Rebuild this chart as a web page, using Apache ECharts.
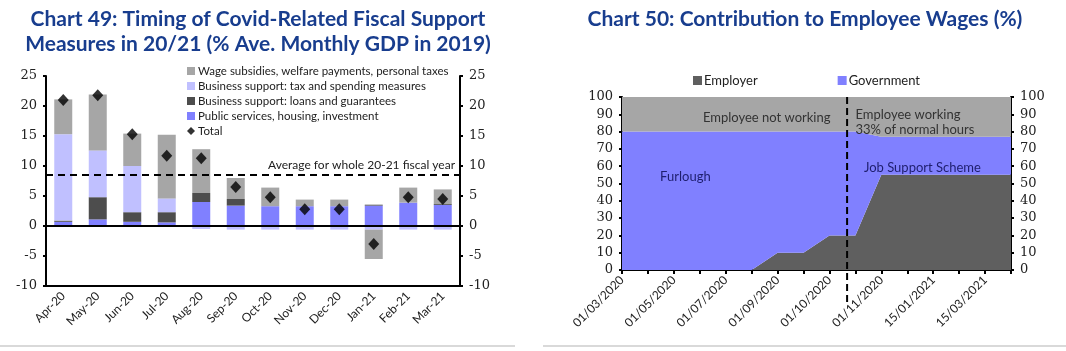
<!DOCTYPE html>
<html>
<head>
<meta charset="utf-8">
<script src="https://cdn.jsdelivr.net/npm/echarts@6/dist/echarts.min.js"></script>
<style>
html,body{margin:0;padding:0;background:#fff;}
#main{width:1066px;height:351px;}
</style>
</head>
<body>
<div id="main"></div>
<script>
// chart 49 data
var months=['Apr-20','May-20','Jun-20','Jul-20','Aug-20','Sep-20','Oct-20','Nov-20','Dec-20','Jan-21','Feb-21','Mar-21'];
var publicServices=[0.7,1.1,0.7,0.6,4.0,3.4,3.3,3.3,3.3,3.4,3.9,3.5];
var loans=[0.2,3.7,1.6,1.7,1.5,1.1,0,0,0,0.15,0,0.15];
var taxSpending=[14.4,7.8,7.7,2.3,-0.5,-0.6,-0.6,-0.6,-0.6,-0.6,-0.6,-0.6];
var wageSubs=[5.8,9.3,5.4,10.6,7.3,3.5,3.1,1.1,1.1,-4.9,2.5,2.45];
var totals=[21.0,21.8,15.3,11.7,11.3,6.5,4.8,2.8,2.8,-3.0,4.8,4.5];
var fiscalAverage=8.6;

// chart 50 data
var dates=['01/03/2020','01/04/2020','01/05/2020','01/06/2020','01/07/2020','01/08/2020','01/09/2020','15/09/2020',
	'01/10/2020','15/10/2020','01/11/2020','15/12/2020','15/01/2021','15/02/2021','15/03/2021','15/04/2021'];
var employer=[0,0,0,0,0,0,10,10,20,20,55,55,55,55,55,55];
var government=[80,80,80,80,80,80,70,70,60,60,22,22,22,22,22,22];
var employeeGap=[20,20,20,20,20,20,20,20,20,20,23,23,23,23,23,23];
var schemeSwitch=8.68; // position of dashed line, in tick units

var numFont='DejaVu Serif';
var txtFont='Lato';
var titleColor='#183d8e';

function yAxisDef(grid,pos,min,max,step){
	return {
		type:'value',gridIndex:grid,position:pos,min:min,max:max,interval:step,
		axisLine:{show:true,lineStyle:{color:'#000',width:2}},
		axisTick:{show:true,length:3,lineStyle:{color:'#000',width:2}},
		axisLabel:{color:'#222',fontFamily:numFont,fontSize:13,margin:9},
		splitLine:{show:false}
	};
}

var chart=echarts.init(document.getElementById('main'));
var option={
	animation:false,
	grid:[
		{left:46,top:76,width:414,height:210},
		{left:622,top:97,width:389,height:173}
	],
	legend:[
		{
			left:182,top:60,orient:'vertical',itemGap:3,itemWidth:8,itemHeight:8,
			textStyle:{fontFamily:txtFont,fontSize:11.5,color:'#222',lineHeight:12,padding:[0,0,0,-2]},
			data:[
				{name:'Wage subsidies, welfare payments, personal taxes',icon:'rect'},
				{name:'Business support: tax and spending measures',icon:'rect'},
				{name:'Business support: loans and guarantees',icon:'rect'},
				{name:'Public services, housing, investment',icon:'rect'},
				{name:'Total',icon:'diamond'}
			]
		},
		{
			left:688,top:69,itemGap:80,itemWidth:9,itemHeight:9,
			textStyle:{fontFamily:txtFont,fontSize:13,color:'#222',padding:[0,0,0,-3]},
			data:[{name:'Employer',icon:'rect'},{name:'Government',icon:'rect'}]
		}
	],
	xAxis:[
		{
			type:'category',gridIndex:0,data:months,position:'bottom',
			axisLine:{onZero:false,lineStyle:{color:'#000',width:2}},
			axisTick:{length:4,lineStyle:{color:'#000',width:2}},
			axisLabel:{rotate:45,fontFamily:txtFont,fontSize:12,color:'#222',margin:8}
		},
		{
			type:'category',gridIndex:1,data:dates,boundaryGap:false,
			axisLine:{onZero:false,lineStyle:{color:'#000',width:2}},
			axisTick:{length:4,interval:0,lineStyle:{color:'#000',width:2}},
			axisLabel:{rotate:45,interval:1,fontFamily:txtFont,fontSize:12,color:'#222',margin:8}
		},
		{type:'value',gridIndex:1,min:0,max:dates.length-1,show:false}
	],
	yAxis:[
		yAxisDef(0,'left',-10,25,5),
		yAxisDef(0,'right',-10,25,5),
		yAxisDef(1,'left',0,100,10),
		yAxisDef(1,'right',0,100,10)
	],
	series:[
		{
			name:'Public services, housing, investment',type:'bar',stack:'fiscal',
			xAxisIndex:0,yAxisIndex:0,barWidth:18,data:publicServices,
			itemStyle:{color:'#8080ff'},
			markLine:{
				silent:true,symbol:'none',
				data:[
					{yAxis:0,lineStyle:{color:'#000',width:2,type:'solid'},label:{show:false}},
					{yAxis:fiscalAverage,lineStyle:{color:'#000',width:2,type:[7,5]},
						label:{show:true,position:'insideEndTop',formatter:'Average for whole 20-21 fiscal year',
							fontFamily:txtFont,fontSize:12,color:'#222',distance:[5,3]}}
				]
			}
		},
		{
			name:'Business support: loans and guarantees',type:'bar',stack:'fiscal',
			xAxisIndex:0,yAxisIndex:0,barWidth:18,data:loans,itemStyle:{color:'#4d4d4d'}
		},
		{
			name:'Business support: tax and spending measures',type:'bar',stack:'fiscal',
			xAxisIndex:0,yAxisIndex:0,barWidth:18,data:taxSpending,itemStyle:{color:'#c0c0ff'}
		},
		{
			name:'Wage subsidies, welfare payments, personal taxes',type:'bar',stack:'fiscal',
			xAxisIndex:0,yAxisIndex:0,barWidth:18,data:wageSubs,itemStyle:{color:'#a6a6a6'}
		},
		{
			name:'Total',type:'scatter',xAxisIndex:0,yAxisIndex:0,data:totals,
			symbol:'diamond',symbolSize:[11,12],itemStyle:{color:'#000'},z:5
		},
		{
			name:'Employer',type:'line',stack:'wages',xAxisIndex:1,yAxisIndex:2,data:employer,
			symbol:'none',lineStyle:{width:0},areaStyle:{color:'#5f5f5f',opacity:1},itemStyle:{color:'#5f5f5f'}
		},
		{
			name:'Government',type:'line',stack:'wages',xAxisIndex:1,yAxisIndex:2,data:government,
			symbol:'none',lineStyle:{width:0},areaStyle:{color:'#8080ff',opacity:1},itemStyle:{color:'#8080ff'}
		},
		{
			name:'Employee',type:'line',stack:'wages',xAxisIndex:1,yAxisIndex:2,data:employeeGap,
			symbol:'none',lineStyle:{width:0},areaStyle:{color:'#a6a6a6',opacity:1},itemStyle:{color:'#a6a6a6'}
		}
	]
};
chart.setOption(option);

// annotations placed in data space of chart 50
function px(x,y){return chart.convertToPixel({xAxisIndex:2,yAxisIndex:2},[x,y]);}
var notes=[
	{t:'Employee not working',x:3.12,y:88,c:'#333'},
	{t:'Employee working',x:9.0,y:89.6,c:'#333'},
	{t:'33% of normal hours',x:9.0,y:80.9,c:'#333'},
	{t:'Furlough',x:1.47,y:53.8,c:'#1e1e6e'},
	{t:'Job Support Scheme',x:9.33,y:59,c:'#1e1e6e'}
];
var g=[];
notes.forEach(function(n){
	var p=px(n.x,n.y);
	g.push({type:'text',x:p[0],y:p[1],z:10,style:{text:n.t,fill:n.c,font:'13px '+txtFont,textVerticalAlign:'middle',textAlign:'left'}});
});
var lt=px(schemeSwitch,100),lb=px(schemeSwitch,0);
g.push({type:'line',z:10,shape:{x1:lt[0],y1:lt[1],x2:lb[0],y2:lb[1]+32},style:{stroke:'#000',lineWidth:2,lineDash:[7,4]}});
g.push({type:'text',x:258,y:7,style:{text:'Chart 49: Timing of Covid-Related Fiscal Support\nMeasures in 20/21 (% Ave. Monthly GDP in 2019)',
	fill:titleColor,font:'bold 21px '+txtFont,textAlign:'center',lineHeight:25}});
g.push({type:'text',x:805,y:7,style:{text:'Chart 50: Contribution to Employee Wages (%)',
	fill:titleColor,font:'bold 21px '+txtFont,textAlign:'center',lineHeight:25}});
g.push({type:'line',shape:{x1:0,y1:346,x2:515,y2:346},style:{stroke:'#d9d9d9',lineWidth:2}});
g.push({type:'line',shape:{x1:543,y1:346,x2:1066,y2:346},style:{stroke:'#d9d9d9',lineWidth:2}});
chart.setOption({graphic:g});
</script>
</body>
</html>
